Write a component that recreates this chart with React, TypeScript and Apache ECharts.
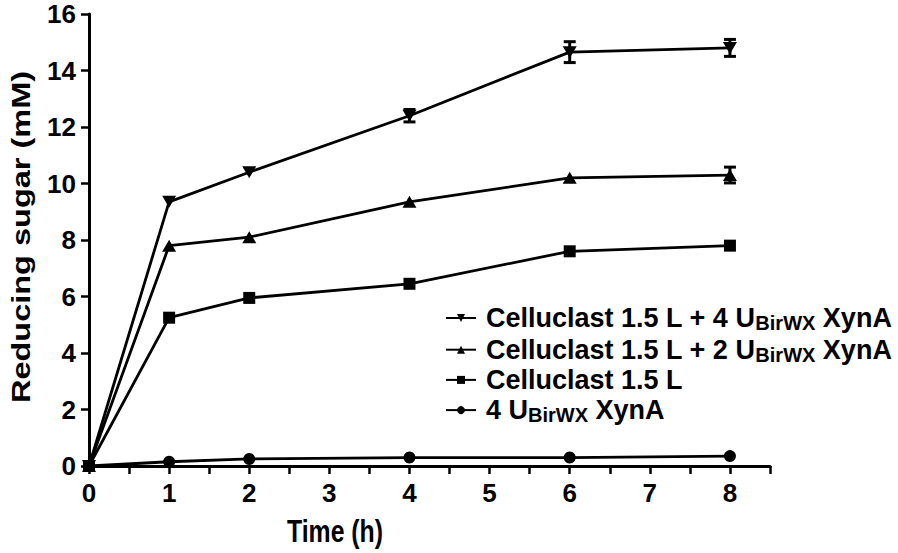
import React, { useEffect, useRef } from "react";
import * as echarts from "echarts";

const times = [0, 1, 2, 4, 6, 8];
const celluclast4U = [0, 9.35, 10.4, 12.4, 14.65, 14.8];
const celluclast2U = [0, 7.8, 8.1, 9.35, 10.2, 10.3];
const celluclastOnly = [0, 5.25, 5.95, 6.45, 7.6, 7.8];
const xynAOnly = [0, 0.15, 0.25, 0.3, 0.3, 0.35];
const err4U = [0, 0, 0, 0.22, 0.37, 0.3];
const err2U = [0, 0, 0, 0, 0, 0.28];

const seriesNames = [
  "Celluclast 1.5 L + 4 U XynA",
  "Celluclast 1.5 L + 2 U XynA",
  "Celluclast 1.5 L",
  "4 U XynA",
];
const legendRich = [
  "{a|Celluclast 1.5 L + 4 U}{s|BirWX}{a| XynA}",
  "{a|Celluclast 1.5 L + 2 U}{s|BirWX}{a| XynA}",
  "{a|Celluclast 1.5 L}",
  "{a|4 U}{s|BirWX}{a| XynA}",
];
const xTitle = "Time (h)";
const yTitle = "Reducing sugar (mM)";

const FONT = "'Liberation Sans', Arial, sans-serif";
const downTri = "path://M0,0 L14,0 L7,12 Z";

export default function App() {
  const ref = useRef<HTMLDivElement>(null);
  useEffect(() => {
    if (!ref.current) return;
    const chart = echarts.init(ref.current, null, { renderer: "svg" });
    const pts = (ys: number[]) => times.map((t, i) => [t, ys[i]]);
    const errData: number[][] = [];
    times.forEach((t, i) => {
      if (err4U[i] > 0) errData.push([t, celluclast4U[i] - err4U[i], celluclast4U[i] + err4U[i]]);
      if (err2U[i] > 0) errData.push([t, celluclast2U[i] - err2U[i], celluclast2U[i] + err2U[i]]);
    });
    const lineBase = {
      type: "line",
      lineStyle: { color: "#000", width: 2.8 },
      itemStyle: { color: "#000" },
      z: 3,
    };
    chart.setOption({
      animation: false,
      grid: { left: 89, right: 128, top: 14, bottom: 87 },
      xAxis: {
        type: "value",
        min: 0,
        max: 8.5,
        interval: 0.5,
        splitLine: { show: false },
        axisLine: { lineStyle: { color: "#000", width: 3 } },
        axisTick: { length: 8, lineStyle: { color: "#000", width: 2.5 } },
        axisLabel: {
          margin: 14,
          color: "#000",
          fontSize: 26,
          fontWeight: "bold",
          fontFamily: FONT,
          formatter: (v: number) => (Number.isInteger(v) && v <= 8 ? String(v) : ""),
        },
      },
      yAxis: {
        type: "value",
        min: 0,
        max: 16,
        interval: 2,
        splitLine: { show: false },
        axisLine: { lineStyle: { color: "#000", width: 3 } },
        axisTick: { length: 8, lineStyle: { color: "#000", width: 2.5 } },
        axisLabel: {
          margin: 13,
          color: "#000",
          fontSize: 26,
          fontWeight: "bold",
          fontFamily: FONT,
        },
      },
      legend: {
        orient: "vertical",
        left: 440,
        top: 298,
        itemGap: 1.7,
        itemWidth: 30,
        itemHeight: 10,
        selectedMode: false,
        data: seriesNames,
        formatter: (name: string) => legendRich[seriesNames.indexOf(name)],
        textStyle: {
          color: "#000",
          fontFamily: FONT,
          padding: [0, 0, 0, 5],
          rich: {
            a: { fontSize: 27, fontWeight: "bold", fontFamily: FONT, color: "#000", lineHeight: 30 },
            s: {
              fontSize: 20,
              fontWeight: "bold",
              fontFamily: FONT,
              color: "#000",
              lineHeight: 20,
              padding: [10, 0, 0, 0],
            },
          },
        },
      },
      graphic: [
        {
          type: "text",
          x: 335,
          y: 532,
          scaleX: 0.8,
          style: {
            text: xTitle,
            font: `bold 31px ${FONT}`,
            fill: "#000",
            textAlign: "center",
            textVerticalAlign: "middle",
          },
        },
        {
          type: "text",
          x: 21,
          y: 237,
          rotation: Math.PI / 2,
          scaleY: 0.82,
          style: {
            text: yTitle,
            font: `bold 32.5px ${FONT}`,
            fill: "#000",
            textAlign: "center",
            textVerticalAlign: "middle",
          },
        },
      ],
      series: [
        { ...lineBase, name: seriesNames[0], data: pts(celluclast4U), symbol: downTri, symbolSize: [14, 12] },
        { ...lineBase, name: seriesNames[1], data: pts(celluclast2U), symbol: "triangle", symbolSize: [14, 12] },
        { ...lineBase, name: seriesNames[2], data: pts(celluclastOnly), symbol: "rect", symbolSize: 12 },
        { ...lineBase, name: seriesNames[3], data: pts(xynAOnly), symbol: "circle", symbolSize: 12 },
        {
          type: "custom",
          name: "error",
          data: errData,
          z: 4,
          renderItem: (params: any, api: any) => {
            const x = api.value(0);
            const lo = api.coord([x, api.value(1)]);
            const hi = api.coord([x, api.value(2)]);
            const hw = 6;
            const style = { stroke: "#000", lineWidth: 3 };
            return {
              type: "group",
              children: [
                { type: "line", shape: { x1: lo[0], y1: lo[1], x2: hi[0], y2: hi[1] }, style },
                { type: "line", shape: { x1: lo[0] - hw, y1: lo[1], x2: lo[0] + hw, y2: lo[1] }, style },
                { type: "line", shape: { x1: hi[0] - hw, y1: hi[1], x2: hi[0] + hw, y2: hi[1] }, style },
              ],
            };
          },
        },
      ],
    });
    return () => chart.dispose();
  }, []);
  return (
    <div
      ref={ref}
      style={{ position: "fixed", left: 0, top: 0, width: 898, height: 553, background: "#fff" }}
    />
  );
}
